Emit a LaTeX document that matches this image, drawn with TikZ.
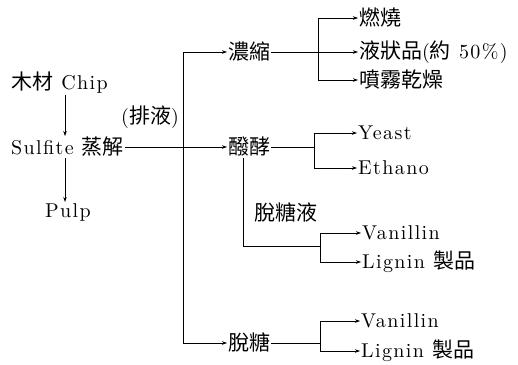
\documentclass[tikz,border=0pt]{standalone}
\usepackage{fontspec}
\setmainfont{lmroman10-regular.otf}[LetterSpace=7]
\newfontfamily\cjkfont{Noto Sans CJK TC}[Scale=1.05]
\newcommand\cj[1]{{\cjkfont #1}}
\usetikzlibrary{arrows.meta}
\begin{document}
\begin{tikzpicture}[x=1pt,y=-1pt,
  lbl/.style={anchor=west,inner sep=1pt,font=\fontsize{20}{23}\selectfont},
  ln/.style={line width=0.6pt,black},
  arr/.style={ln,-{Stealth[length=5pt,width=3.5pt]}},
  arr2/.style={ln,{Stealth[length=5pt,width=3.5pt]}-{Stealth[length=5pt,width=3.5pt]}}]
\useasboundingbox (0,0) rectangle (518,364);
% left column
\node[lbl] (chip) at (10,83) {\cj{木材} Chip};
\node[lbl] (sulfite) at (10,147) {Sulfite \cj{蒸解}};
\node[lbl] (pulp) at (44,212) {Pulp};
\node[lbl,anchor=center] (paiye) at (150,117) {(\cj{排液})};
\coordinate (ax) at (65,0);
\draw[arr] (chip.south -| ax) -- (sulfite.north -| ax);
\draw[arr] (sulfite.south -| ax) -- (pulp.north -| ax);
% middle column
\node[lbl] (nong) at (227,52) {\cj{濃縮}};
\node[lbl] (fajiao) at (227,147) {\cj{醱酵}};
\node[lbl] (tuotang) at (227,343) {\cj{脫糖}};
\coordinate (tt) at (183,52);
\coordinate (tb) at (183,343);
\draw[arr] (sulfite.east) -- (fajiao.west);
\draw[arr2] (nong.west) -- (tt) -- (tb) -- (tuotang.west);
% 濃縮 branch
\node[lbl] (ranshao) at (358,18) {\cj{燃燒}};
\node[lbl] (yezhuang) at (358,52) {\cj{液狀品}(\cj{約} 50\%)};
\node[lbl] (penwu) at (358,80) {\cj{噴霧乾燥}};
\coordinate (b1t) at (318,18);
\coordinate (b1m) at (318,52);
\coordinate (b1b) at (318,80);
\draw[ln] (nong.east) -- (b1m);
\draw[arr2] (ranshao.west) -- (b1t) -- (b1b) -- (penwu.west);
\draw[arr] (b1m) -- (yezhuang.west);
% 醱酵 branch
\node[lbl] (yeast) at (357,133) {Yeast};
\node[lbl] (ethano) at (357,168) {Ethano};
\coordinate (b2t) at (314,133);
\coordinate (b2m) at (314,147);
\coordinate (b2b) at (314,168);
\draw[ln] (fajiao.east) -- (b2m);
\draw[arr2] (yeast.west) -- (b2t) -- (b2b) -- (ethano.west);
% 脫糖液 branch
\node[lbl,anchor=center] (tty) at (286,213) {\cj{脫糖液}};
\coordinate (c1) at (243,246);
\coordinate (b3m) at (320,246);
\coordinate (b3t) at (320,233);
\coordinate (b3b) at (320,262);
\node[lbl] (van1) at (361,233) {Vanillin};
\node[lbl] (lig1) at (361,262) {Lignin \cj{製品}};
\draw[ln] (fajiao.south -| c1) -- (c1) -- (b3m);
\draw[arr2] (van1.west) -- (b3t) -- (b3b) -- (lig1.west);
% 脫糖 branch
\coordinate (b4t) at (320,321);
\coordinate (b4m) at (320,343);
\coordinate (b4b) at (320,351);
\node[lbl] (van2) at (360,321) {Vanillin};
\node[lbl] (lig2) at (360,351) {Lignin \cj{製品}};
\draw[ln] (tuotang.east) -- (b4m);
\draw[arr2] (van2.west) -- (b4t) -- (b4b) -- (lig2.west);
\end{tikzpicture}
\end{document}
